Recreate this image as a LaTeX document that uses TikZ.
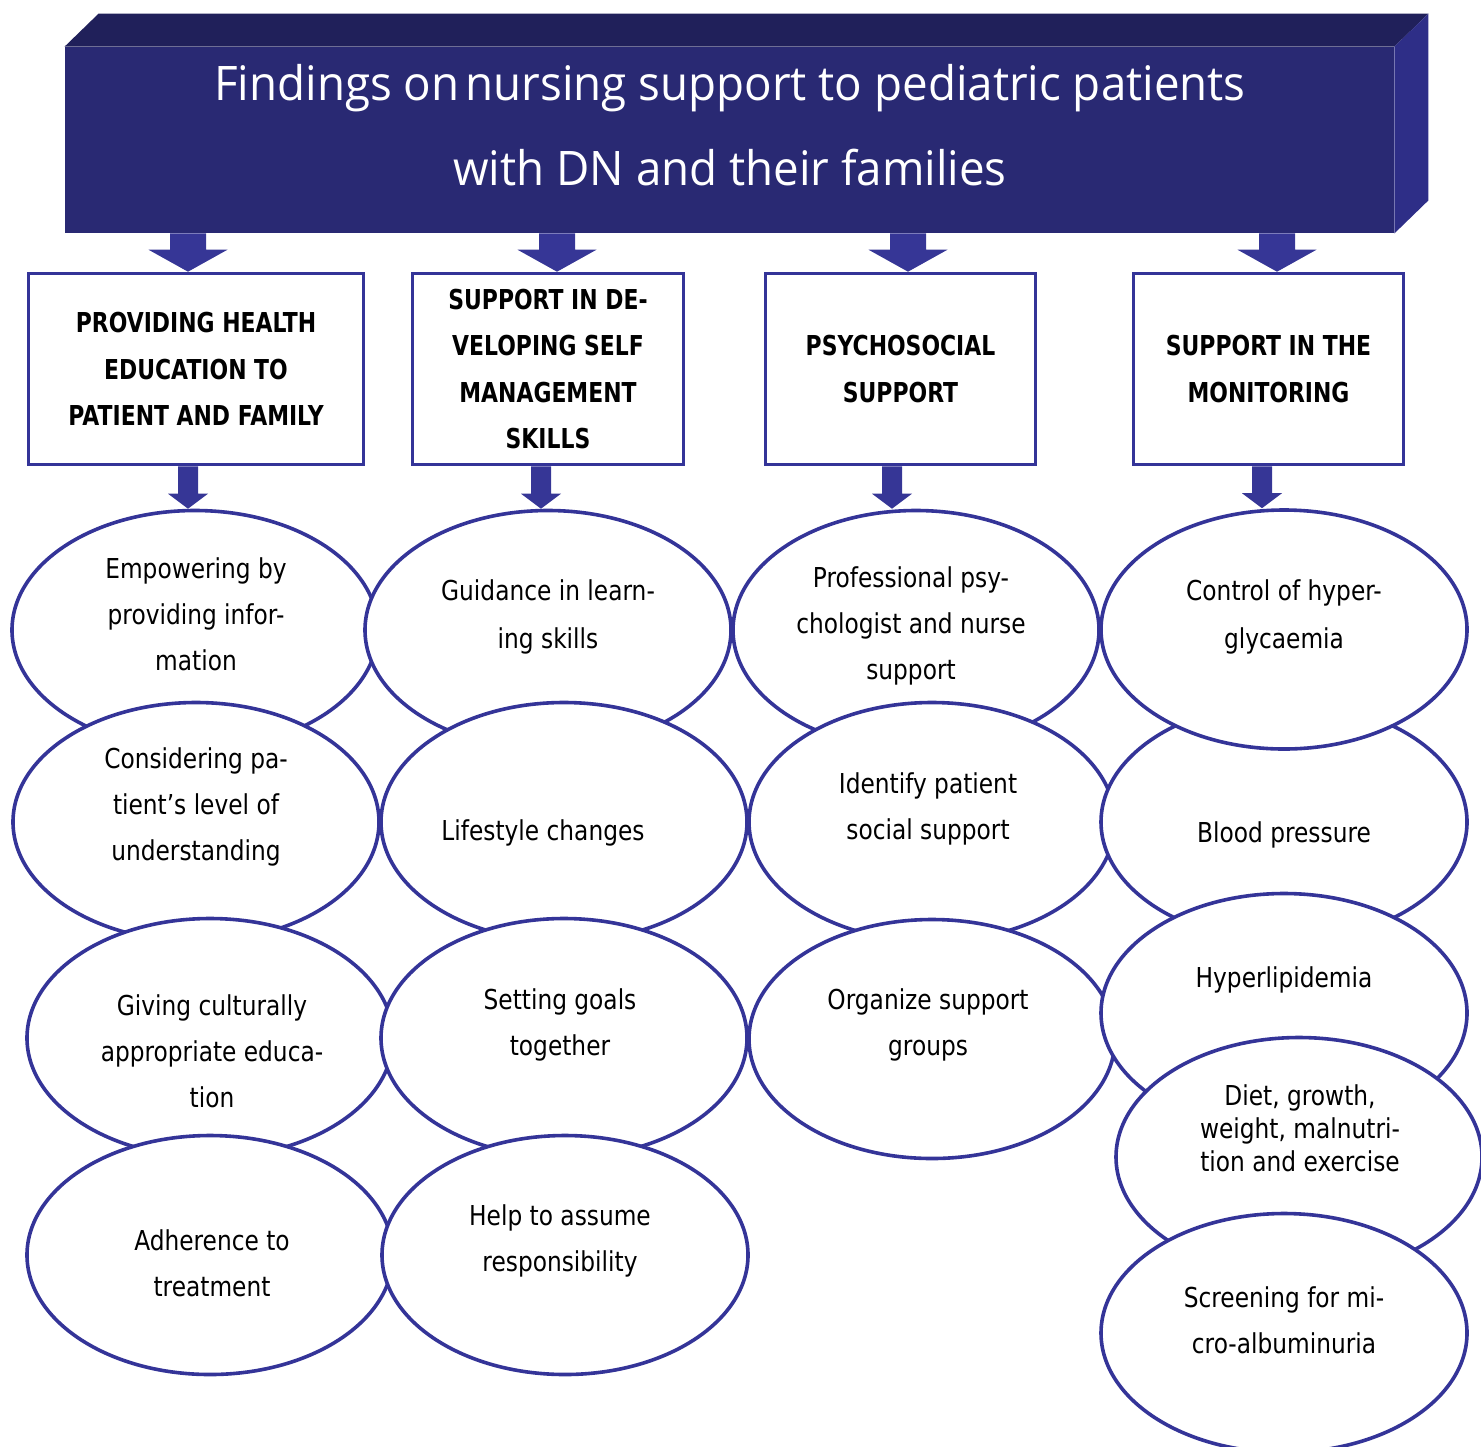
\documentclass[tikz,border=0pt]{standalone}
\usepackage{fontspec}
\setmainfont{DejaVu Sans}[FakeStretch=0.85]
\newfontfamily\boxfont{DejaVu Sans}[FakeStretch=0.8]
\newfontfamily\titlefont{Open Sans}[FakeStretch=0.96]
\usetikzlibrary{shapes.geometric,calc}
\definecolor{hdrtop}{RGB}{32,32,90}
\definecolor{hdrfront}{RGB}{41,41,115}
\definecolor{hdrside}{RGB}{46,46,135}
\definecolor{arrowc}{RGB}{54,54,150}
\definecolor{linec}{RGB}{52,52,152}
\newcommand\blockarrow[5]{\fill[arrowc] ($(#1)+(-#3,0)$) -- ($(#1)+(#3,0)$) -- ($(#2)+(#3,-#5)$) -- ($(#2)+(#4,-#5)$) -- (#2) -- ($(#2)+(-#4,-#5)$) -- ($(#2)+(-#3,-#5)$) -- cycle;}
\tikzset{
  ell/.style={ellipse, draw=linec, line width=1.8pt, fill=white, minimum width=183pt, minimum height=119.5pt, inner sep=0pt},
  catbox/.style={draw=linec, line width=1.8pt, fill=white, inner sep=0pt, align=center, font=\boxfont\bfseries\fontsize{13.7pt}{23.25pt}\selectfont},
  etext/.style={align=center, inner sep=0pt, font=\fontsize{13.7pt}{23pt}\selectfont},
  hdrbox/.style={fill=hdrfront, inner sep=0pt, minimum width=664.5pt, minimum height=93pt},
}
\begin{document}
\begin{tikzpicture}[x=0.5pt,y=-0.5pt]
\useasboundingbox (0,0) rectangle (1481,1446);
% header
\node[hdrbox] (hdr) at (729.5,140) {};
\fill[hdrtop] (hdr.north west) -- ++(34,-33) -- ($(hdr.north east)+(34,-33)$) -- (hdr.north east) -- cycle;
\fill[hdrside] (hdr.north east) -- ++(34,-33) -- ($(hdr.south east)+(34,-33)$) -- (hdr.south east) -- cycle;
\node[text=white, align=center, inner sep=0pt, font=\titlefont\fontsize{23.8pt}{42.5pt}\selectfont] (title) at (730,125) {Findings on\kern3pt nursing support to pediatric patients\\with DN and their families};
% category boxes
\node[catbox, minimum width=167.5pt, minimum height=95.5pt] (b1) at (196,369) {PROVIDING HEALTH\\EDUCATION TO\\PATIENT AND FAMILY};
\node[catbox, minimum width=135.5pt, minimum height=95.5pt] (b2) at (548,369) {SUPPORT IN DE-\\VELOPING SELF\\MANAGEMENT\\SKILLS};
\node[catbox, minimum width=135pt, minimum height=95.5pt] (b3) at (900.5,369) {PSYCHOSOCIAL\\SUPPORT};
\node[catbox, minimum width=135pt, minimum height=95.5pt] (b4) at (1268.5,369) {SUPPORT IN THE\\MONITORING};
% header arrows
\path (hdr.south -| 188,0) coordinate (h1s) (b1.north -| 188,0) coordinate (h1t)
      (hdr.south -| 557,0) coordinate (h2s) (b2.north -| 557,0) coordinate (h2t)
      (hdr.south -| 908,0) coordinate (h3s) (b3.north -| 908,0) coordinate (h3t)
      (hdr.south -| 1277,0) coordinate (h4s) (b4.north -| 1277,0) coordinate (h4t);
\blockarrow{h1s}{h1t}{18}{39.5}{22}
\blockarrow{h2s}{h2t}{18}{39.5}{22}
\blockarrow{h3s}{h3t}{18}{39.5}{22}
\blockarrow{h4s}{h4t}{18}{39.5}{22}
% ellipses column 1
\node[ell] (e11) at (195,630) {};
\node[ell] (e12) at (196,822) {};
\node[ell] (e13) at (210,1038) {};
\node[ell] (e14) at (210,1255) {};
% column 2
\node[ell] (e21) at (548,630) {};
\node[ell] (e22) at (564,822) {};
\node[ell] (e23) at (564,1038) {};
\node[ell] (e24) at (565,1255) {};
% column 3
\node[ell] (e31) at (916,630) {};
\node[ell] (e32) at (932,822) {};
\node[ell] (e33) at (932,1039) {};
% column 4
\node[ell] (e42) at (1284,822) {};
\node[ell] (e41) at (1284,629.5) {};
\node[ell] (e43) at (1284,1013) {};
\node[ell] (e44) at (1299,1157) {};
\node[ell] (e45) at (1284,1333) {};
% box to ellipse arrows
\path (b1.south -| 188,0) coordinate (k1s) (e11.north -| 188,0) coordinate (k1t)
      (b2.south -| 541,0) coordinate (k2s) (e21.north -| 541,0) coordinate (k2t)
      (b3.south -| 892,0) coordinate (k3s) (e31.north -| 892,0) coordinate (k3t)
      (b4.south -| 1262,0) coordinate (k4s) (e41.north -| 1262,0) coordinate (k4t);
\blockarrow{k1s}{k1t}{10}{20}{15}
\blockarrow{k2s}{k2t}{10}{20}{15}
\blockarrow{k3s}{k3t}{10}{20}{15}
\blockarrow{k4s}{k4t}{10}{20}{15}
% ellipse texts
\node[etext] (t11) at (196,614) {Empowering by\\providing infor-\\mation};
\node[etext] (t12) at (196,807) {Considering pa-\\tient’s level of\\understanding};
\node[etext] (t13) at (212,1051) {Giving culturally\\appropriate educa-\\tion};
\node[etext] (t14) at (212,1263) {Adherence to\\treatment};
\node[etext, font=\fontsize{13.7pt}{24pt}\selectfont] (t21) at (548,617) {Guidance in learn-\\ing skills};
\node[etext] (t22) at (543,833) {Lifestyle changes};
\node[etext] (t23) at (560,1025) {Setting goals\\together};
\node[etext] (t24) at (560,1241) {Help to assume\\responsibility};
\node[etext] (t31) at (911,626) {Professional psy-\\chologist and nurse\\support};
\node[etext] (t32) at (928,809) {Identify patient\\social support};
\node[etext] (t33) at (928,1025) {Organize support\\groups};
\node[etext, font=\fontsize{13.7pt}{24pt}\selectfont] (t41) at (1284,617) {Control of hyper-\\glycaemia};
\node[etext] (t42) at (1284,835) {Blood pressure};
\node[etext] (t43) at (1284,980) {Hyperlipidemia};
\node[etext, font=\fontsize{13.7pt}{16.5pt}\selectfont] (t44) at (1300,1128) {Diet, growth,\\weight, malnutri-\\tion and exercise};
\node[etext] (t45) at (1284,1320) {Screening for mi-\\cro-albuminuria};
\end{tikzpicture}
\end{document}
